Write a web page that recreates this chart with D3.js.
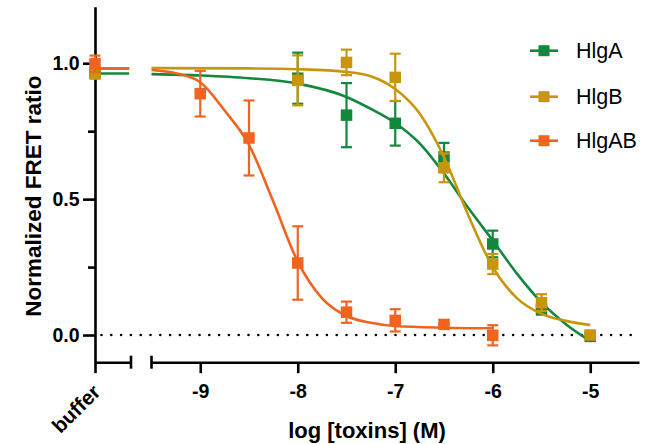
<!DOCTYPE html>
<html>
<head>
<meta charset="utf-8">
<script src="https://cdn.jsdelivr.net/npm/d3@7/dist/d3.min.js"></script>
<style>
  html, body { margin: 0; padding: 0; background: #fff; }
  svg { display: block; }
</style>
</head>
<body>
<svg id="chart" width="646" height="444"></svg>
<script>
// ---------- DATA ----------
const seriesNames = ["HlgA", "HlgB", "HlgAB"];
const seriesColors = ["#12883d", "#c8960d", "#f06420"];

const concLog = [-9, -8.5, -8, -7.5, -7, -6.5, -6, -5.5, -5];

const hlgAMean = [null, null, 0.945, 0.809, 0.779, 0.655, 0.335, 0.095, -0.005];
const hlgASd   = [null, null, 0.094, 0.118, 0.082, 0.052, 0.049, 0.020, 0.010];
const hlgBMean = [null, null, 0.937, 1.003, 0.948, 0.615, 0.261, 0.119, 0.000];
const hlgBSd   = [null, null, 0.092, 0.047, 0.087, 0.053, 0.037, 0.031, 0.010];
const hlgABMean = [0.888, 0.725, 0.265, 0.084, 0.054, 0.039, -0.001, null, null];
const hlgABSd   = [0.084, 0.138, 0.135, 0.039, 0.041, 0.000, 0.037, null, null];

// buffer (no toxin) control
const bufferMean = [0.965, 0.963, 0.998];
const bufferSd   = [0.010, 0.020, 0.030];
const bufferFit  = [0.962, 0.981, 0.980];

// fitted curves (log M, value)
const hlgAFitX = [-9.5, -9.0, -8.5, -8.0, -7.5, -7.25, -7.0, -6.75, -6.5, -6.25, -6.0, -5.75, -5.5, -5.25, -5.0];
const hlgAFitY = [0.960, 0.955, 0.945, 0.925, 0.876, 0.832, 0.780, 0.705, 0.594, 0.467, 0.348, 0.225, 0.120, 0.040, -0.022];
const hlgBFitX = [-9.5, -8.5, -8.0, -7.5, -7.25, -7.0, -6.75, -6.5, -6.25, -6.0, -5.75, -5.5, -5.25, -5.0];
const hlgBFitY = [0.982, 0.981, 0.978, 0.968, 0.952, 0.905, 0.815, 0.655, 0.440, 0.250, 0.135, 0.078, 0.052, 0.037];
const hlgABFitX = [-9.5, -9.25, -9.0, -8.75, -8.5, -8.25, -8.0, -7.75, -7.5, -7.25, -7.0, -6.5, -6.0];
const hlgABFitY = [0.975, 0.963, 0.930, 0.826, 0.700, 0.490, 0.270, 0.135, 0.070, 0.045, 0.033, 0.027, 0.025];

const yTicks = [0, 0.5, 1.0];
const yMinorTicks = [0.25, 0.75];
const xTicks = [-9, -8, -7, -6, -5];
const bufferLabel = ["buffer"];
const xTitle = "log [toxins] (M)";
const yTitle = "Normalized FRET ratio";

// ---------- BUILD ----------
const means = [hlgAMean, hlgBMean, hlgABMean];
const sds = [hlgASd, hlgBSd, hlgABSd];
const fitsX = [hlgAFitX, hlgBFitX, hlgABFitX];
const fitsY = [hlgAFitY, hlgBFitY, hlgABFitY];

const svg = d3.select("#chart");
const boldFont = "'Liberation Sans', Arial, sans-serif";

const x = d3.scaleLinear().domain([-9.5, -4.5]).range([151.5, 639]);
const bx = d3.scaleLinear().domain([0, 1]).range([95, 131]);
const y = d3.scaleLinear().domain([-0.1, 1.208]).range([362.2, 6.7]);
const axisY = 362.2;

const axisW = 2.6;
const markSize = 11.5;
const capW = 11;

// dotted zero line
svg.append("line")
  .attr("x1", bx(0)).attr("x2", x.range()[1])
  .attr("y1", y(0)).attr("y2", y(0))
  .attr("stroke", "#000").attr("stroke-width", 2.6)
  .attr("stroke-linecap", "round")
  .attr("stroke-dasharray", "0 9.8")
  .attr("stroke-dashoffset", -6.5);

// Y axis
const yAxis = svg.append("g")
  .attr("transform", `translate(${bx(0)},0)`)
  .call(d3.axisLeft(y).tickValues(yTicks).tickSize(12).tickSizeOuter(0).tickFormat(d3.format(".1f")));
yAxis.select(".domain").attr("stroke-width", axisW);
yAxis.selectAll(".tick line").attr("stroke-width", axisW);
yAxis.selectAll(".tick text")
  .attr("font-family", boldFont).attr("font-weight", "bold")
  .attr("font-size", 19.5).attr("fill", "#000").attr("x", -15.5);

const yMinor = svg.append("g")
  .attr("transform", `translate(${bx(0)},0)`)
  .call(d3.axisLeft(y).tickValues(yMinorTicks).tickSize(7).tickFormat(""));
yMinor.select(".domain").remove();
yMinor.selectAll(".tick line").attr("stroke-width", axisW);

// buffer axis segment
const bAxis = svg.append("g")
  .attr("transform", `translate(0,${axisY})`)
  .call(d3.axisBottom(bx).tickValues([0]).tickSize(11).tickSizeOuter(0).tickFormat(() => bufferLabel[0]));
bAxis.select(".domain").attr("stroke-width", axisW);
bAxis.selectAll(".tick line").attr("stroke-width", axisW);
bAxis.selectAll(".tick text")
  .attr("font-family", boldFont).attr("font-weight", "bold")
  .attr("font-size", 20.5).attr("fill", "#000")
  .attr("text-anchor", "end")
  .attr("transform", "translate(1,26) rotate(-45)")
  .attr("y", 0).attr("dy", "0.35em");

// main axis segment
const xAxis = svg.append("g")
  .attr("transform", `translate(0,${axisY})`)
  .call(d3.axisBottom(x).tickValues(xTicks).tickSize(11).tickSizeOuter(0).tickFormat(d => String(d)));
xAxis.select(".domain").attr("stroke-width", axisW);
xAxis.selectAll(".tick line").attr("stroke-width", axisW);
xAxis.selectAll(".tick text")
  .attr("font-family", boldFont).attr("font-weight", "bold")
  .attr("font-size", 19.5).attr("fill", "#000").attr("y", 22);

// break caps
[bx(1), x(-9.5)].forEach(px => {
  svg.append("line")
    .attr("x1", px).attr("x2", px)
    .attr("y1", axisY - 6.5).attr("y2", axisY + 6.5)
    .attr("stroke", "#000").attr("stroke-width", axisW);
});

// titles
svg.append("text")
  .attr("x", 367).attr("y", 438)
  .attr("text-anchor", "middle")
  .attr("font-family", boldFont).attr("font-weight", "bold").attr("font-size", 22)
  .attr("fill", "#000").text(xTitle);
svg.append("text")
  .attr("transform", `translate(41,${(y(0) + y(1)) / 2 - 3}) rotate(-90)`)
  .attr("text-anchor", "middle")
  .attr("font-family", boldFont).attr("font-weight", "bold").attr("font-size", 22.5)
  .attr("fill", "#000").text(yTitle);

// series
const line = d3.line().x(d => x(d[0])).y(d => y(d[1])).curve(d3.curveMonotoneX);

seriesNames.forEach((name, si) => {
  const col = seriesColors[si];
  const g = svg.append("g");
  // fitted curve
  const pts = fitsX[si].map((v, i) => [v, fitsY[si][i]]);
  g.append("path").attr("d", line(pts))
    .attr("fill", "none").attr("stroke", col).attr("stroke-width", 2.6);
  // buffer fit line
  g.append("line")
    .attr("x1", bx(0)).attr("x2", bx(0.95))
    .attr("y1", y(bufferFit[si])).attr("y2", y(bufferFit[si]))
    .attr("stroke", col).attr("stroke-width", 2.6);

  const pData = concLog.map((c, i) => ({ px: x(c), m: means[si][i], s: sds[si][i] }))
    .filter(d => d.m !== null);
  pData.push({ px: bx(0), m: bufferMean[si], s: bufferSd[si] });

  pData.forEach(d => {
    const y1 = y(d.m + d.s), y2 = y(d.m - d.s);
    g.append("line").attr("x1", d.px).attr("x2", d.px).attr("y1", y1).attr("y2", y2)
      .attr("stroke", col).attr("stroke-width", 2.2);
    [y1, y2].forEach(yy => {
      g.append("line").attr("x1", d.px - capW / 2).attr("x2", d.px + capW / 2)
        .attr("y1", yy).attr("y2", yy)
        .attr("stroke", col).attr("stroke-width", 2.2);
    });
    g.append("rect")
      .attr("x", d.px - markSize / 2).attr("y", y(d.m) - markSize / 2)
      .attr("width", markSize).attr("height", markSize)
      .attr("fill", col);
  });
});

// legend
const legY = [50.7, 96.7, 140.7];
seriesNames.forEach((name, si) => {
  const col = seriesColors[si];
  const g = svg.append("g").attr("transform", `translate(530,${legY[si]})`);
  g.append("line").attr("x1", 0).attr("x2", 28).attr("y1", 0).attr("y2", 0)
    .attr("stroke", col).attr("stroke-width", 2.6);
  g.append("rect").attr("x", 14 - 5.5).attr("y", -5.5).attr("width", 11).attr("height", 11)
    .attr("fill", col);
  g.append("text").attr("x", 46).attr("y", 0).attr("dy", "0.36em")
    .attr("font-family", "'Liberation Sans', Arial, sans-serif")
    .attr("font-size", 21.5).attr("fill", "#000").text(name);
});
</script>
</body>
</html>
